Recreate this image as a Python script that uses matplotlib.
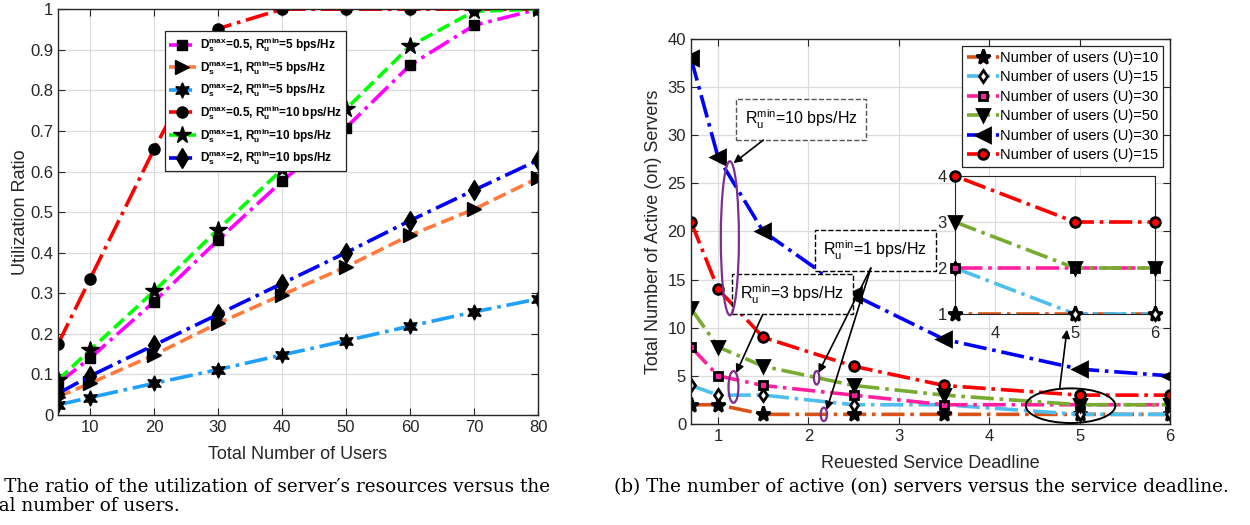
import matplotlib
matplotlib.use("Agg")
import matplotlib.pyplot as plt
from matplotlib.patches import Ellipse

# ---------------- data: (a) utilization ratio ----------------
users = [5, 10, 20, 30, 40, 50, 60, 70, 80]
util_d05_r5 = [0.078, 0.14, 0.279, 0.431, 0.576, 0.708, 0.862, 0.96, 1.0]
util_d1_r5 = [0.045, 0.078, 0.148, 0.226, 0.296, 0.365, 0.443, 0.507, 0.584]
util_d2_r5 = [0.025, 0.043, 0.078, 0.112, 0.148, 0.183, 0.219, 0.254, 0.286]
util_d05_r10 = [0.175, 0.335, 0.655, 0.952, 1.0, 1.0, 1.0, 1.0, 1.0]
util_d1_r10 = [0.086, 0.16, 0.305, 0.457, 0.605, 0.754, 0.909, 0.995, 1.0]
util_d2_r10 = [0.053, 0.096, 0.172, 0.248, 0.324, 0.40, 0.479, 0.554, 0.628]
labels_a = [
    r"$\mathbf{D_s^{max}}$=0.5, $\mathbf{R_u^{min}}$=5 bps/Hz",
    r"$\mathbf{D_s^{max}}$=1, $\mathbf{R_u^{min}}$=5 bps/Hz",
    r"$\mathbf{D_s^{max}}$=2, $\mathbf{R_u^{min}}$=5 bps/Hz",
    r"$\mathbf{D_s^{max}}$=0.5, $\mathbf{R_u^{min}}$=10 bps/Hz",
    r"$\mathbf{D_s^{max}}$=1, $\mathbf{R_u^{min}}$=10 bps/Hz",
    r"$\mathbf{D_s^{max}}$=2, $\mathbf{R_u^{min}}$=10 bps/Hz",
]

# ---------------- data: (b) active servers ----------------
deadline = [0.7, 1, 1.5, 2.5, 3.5, 5, 6]
srv_u10 = [2, 2, 1, 1, 1, 1, 1]
srv_u15 = [4, 3, 3, 2, 2, 1, 1]
srv_u30 = [8, 5, 4, 3, 2, 2, 2]
srv_u50 = [12, 8, 6, 4, 3, 2, 2]
srv_u30_hi = [38, 27.7, 20, 13.4, 8.8, 5.7, 5]
srv_u15_hi = [21, 14, 9, 6, 4, 3, 3]
labels_b = ["Number of users (U)=10", "Number of users (U)=15",
            "Number of users (U)=30", "Number of users (U)=50",
            "Number of users (U)=30", "Number of users (U)=15"]

plt.rcParams['font.family'] = ['Liberation Sans', 'DejaVu Sans']
plt.rcParams['mathtext.fontset'] = 'custom'
plt.rcParams['mathtext.rm'] = 'Liberation Sans'
plt.rcParams['mathtext.it'] = 'Liberation Sans'
plt.rcParams['mathtext.bf'] = 'Liberation Sans:bold'

AX_COL = '#262626'
GRID_COL = '#dcdcdc'


def matlab_axes(ax):
    ax.grid(True, color=GRID_COL, lw=0.9)
    ax.set_axisbelow(True)
    for s in ax.spines.values():
        s.set_color(AX_COL)
        s.set_linewidth(1.0)
    ax.tick_params(direction='in', top=True, right=True, colors=AX_COL,
                   labelsize=12, length=5, labelcolor='#262626')


def main():
    fig = plt.figure(figsize=(12.5, 5.25), dpi=100)

    # ---------- left panel ----------
    ax = fig.add_axes([0.0464, 0.2095, 0.384, 0.773])
    matlab_axes(ax)
    mk = dict(mfc='k', mec='k')
    ax.plot(users, util_d05_r5, '-.', color='#ff00ff', lw=2.6, marker='s', ms=7, label=labels_a[0], **mk)
    ax.plot(users, util_d1_r5, '--', color='#ff7a3c', lw=2.6, marker='>', ms=10, label=labels_a[1], **mk)
    ax.plot(users, util_d2_r5, '-.', color='#1ea0ff', lw=2.6, marker=(6, 1, 0), ms=11, label=labels_a[2], **mk)
    ax.plot(users, util_d05_r10, '-.', color='#ff0000', lw=2.6, marker='o', ms=8, label=labels_a[3], **mk)
    ax.plot(users, util_d1_r10, '--', color='#00ff00', lw=2.6, marker='*', ms=13, label=labels_a[4], **mk)
    ax.plot(users, util_d2_r10, '-.', color='#0000ff', lw=2.6, marker='d', ms=10, label=labels_a[5], **mk)
    ax.set_xlim(5, 80)
    ax.set_ylim(0, 1)
    ax.set_xticks([10, 20, 30, 40, 50, 60, 70, 80])
    ax.set_yticks([i / 10 for i in range(11)])
    ax.set_yticklabels(['0', '0.1', '0.2', '0.3', '0.4', '0.5', '0.6', '0.7', '0.8', '0.9', '1'])
    ax.set_xlabel("Total Number of Users", fontsize=13, color='#262626', labelpad=8)
    ax.set_ylabel("Utilization Ratio", fontsize=13, color='#262626', labelpad=1)
    leg = ax.legend(loc='upper left', bbox_to_anchor=(0.21, 0.96), prop={'weight': 'bold', 'size': 8.5},
                    handlelength=2.3, labelspacing=0.33, borderpad=0.35, fancybox=False,
                    edgecolor=AX_COL, framealpha=1, handletextpad=0.3)
    leg.get_frame().set_linewidth(0.9)

    # ---------- right panel ----------
    ax2 = fig.add_axes([0.5528, 0.1924, 0.3832, 0.7333])
    matlab_axes(ax2)
    series = [
        (srv_u10, '-.', '#d95319', '*', 11, 'k'),
        (srv_u15, '-.', '#4dbeee', 'd', 6, 'w'),
        (srv_u30, '-.', '#ff1fa0', 's', 6, '#ff1fa0'),
        (srv_u50, '-.', '#77ac30', 'v', 9, 'k'),
        (srv_u30_hi, '-.', '#0000ff', '<', 10, 'k'),
        (srv_u15_hi, '-.', '#ff0000', 'o', 7, '#ff0000'),
    ]
    for (vals, ls, col, m, ms, fc), lab in zip(series, labels_b):
        ax2.plot(deadline, vals, ls, color=col, lw=2.6, marker=m, ms=ms, mfc=fc, mec='k', mew=2,
                 label=lab)
    ax2.set_xlim(0.7, 6)
    ax2.set_ylim(0, 40)
    ax2.set_xticks([1, 2, 3, 4, 5, 6])
    ax2.set_yticks(range(0, 41, 5))
    ax2.set_xlabel("Reuested Service Deadline", fontsize=13, color='#262626', labelpad=8)
    ax2.set_ylabel("Total Number of Active (on) Servers", fontsize=13, color='#262626', labelpad=4)
    leg2 = ax2.legend(loc='upper right', prop={'size': 10.5}, handlelength=2.2, labelspacing=0.38,
                      borderpad=0.3, fancybox=False, edgecolor=AX_COL, framealpha=1,
                      handletextpad=0.1, borderaxespad=0.5)
    leg2.get_frame().set_linewidth(0.9)

    # annotations
    box_kw = dict(boxstyle='square,pad=0.55', fc='w', ls='--', lw=1.0)
    ax2.text(1.92, 31.6, r"$\mathrm{R_u^{min}}$=10 bps/Hz", fontsize=11.5, ha='center', va='center',
             bbox=dict(ec='#555555', **box_kw))
    ax2.text(2.74, 18.0, r"$\mathrm{R_u^{min}}$=1 bps/Hz", fontsize=11.5, ha='center', va='center',
             bbox=dict(ec='k', **box_kw))
    ax2.text(1.82, 13.5, r"$\mathrm{R_u^{min}}$=3 bps/Hz", fontsize=11.5, ha='center', va='center',
             bbox=dict(ec='k', **box_kw))
    arr = dict(arrowstyle='-|>', color='k', lw=1.2, mutation_scale=12, shrinkA=0, shrinkB=0)
    ax2.annotate('', xy=(1.17, 27.1), xytext=(1.5, 29.5), arrowprops=arr)
    ax2.annotate('', xy=(2.11, 5.3), xytext=(2.69, 16.2), arrowprops=arr)
    ax2.annotate('', xy=(2.2, 1.45), xytext=(2.69, 16.2), arrowprops=arr)
    ax2.annotate('', xy=(1.2, 5.3), xytext=(1.49, 11.3), arrowprops=arr)
    ax2.annotate('', xy=(4.86, 9.8), xytext=(4.78, 3.74), arrowprops=arr)
    purple = '#7e2f8e'
    ax2.add_patch(Ellipse((1.13, 19.3), 0.2, 16, fill=False, ec=purple, lw=1.6, zorder=5))
    ax2.add_patch(Ellipse((1.17, 3.85), 0.11, 3.3, fill=False, ec=purple, lw=1.6, zorder=5))
    ax2.add_patch(Ellipse((2.09, 4.8), 0.06, 1.4, fill=False, ec=purple, lw=1.6, zorder=5))
    ax2.add_patch(Ellipse((2.17, 1.0), 0.07, 1.4, fill=False, ec=purple, lw=1.6, zorder=5))
    ax2.add_patch(Ellipse((4.9, 1.9), 0.99, 3.6, fill=False, ec='k', lw=1.4, zorder=5))

    # inset zoom of the tail
    ins = fig.add_axes([955 / 1250, (525 - 314) / 525, 200 / 1250, 138 / 525])
    ins.grid(True, color=GRID_COL, lw=0.9)
    ins.set_axisbelow(True)
    for s in ins.spines.values():
        s.set_color(AX_COL)
    ins.set_xlim(3.5, 6)
    ins.set_ylim(1, 4)
    for (vals, ls, col, m, ms, fc), lab in zip(series, labels_b):
        ins.plot(deadline, vals, ls, color=col, lw=2.6)
        xs = [x for x, y in zip(deadline, vals) if 3.5 <= x <= 6 and 1 <= y <= 4]
        ys = [y for x, y in zip(deadline, vals) if 3.5 <= x <= 6 and 1 <= y <= 4]
        ins.plot(xs, ys, ls='none', marker=m, ms=ms, mfc=fc, mec='k', mew=2, clip_on=False, zorder=4)
    ins.set_xticks([4, 5, 6])
    ins.set_yticks([1, 2, 3, 4])
    ins.tick_params(direction='in', length=0, labelsize=12, colors=AX_COL)
    ins.tick_params(axis='y', pad=6)
    ins.tick_params(axis='x', pad=9)

    # captions (the "(a)" and start of line two run off the left edge, as in the original)
    cap_font = ['DejaVu Serif', 'Liberation Serif']
    cap_size = 13.2
    fig.canvas.draw()
    r = fig.canvas.get_renderer()
    probe = fig.text(0, 0, "(a) ", family=cap_font, fontsize=cap_size)
    shift = probe.get_window_extent(r).width
    probe.remove()
    fig.text((4 - shift) / 1250, 1 - 478 / 525,
             "(a) The ratio of the utilization of server\u2032s resources versus the\n"
             "total number of users.", family=cap_font, fontsize=cap_size, va='top', ha='left',
             linespacing=1.1)
    fig.text(614 / 1250, 1 - 478 / 525, "(b) The number of active (on) servers versus the service deadline.",
             family=cap_font, fontsize=cap_size, va='top', ha='left')

    fig.savefig("out.png", dpi=100)


if __name__ == "__main__":
    main()
